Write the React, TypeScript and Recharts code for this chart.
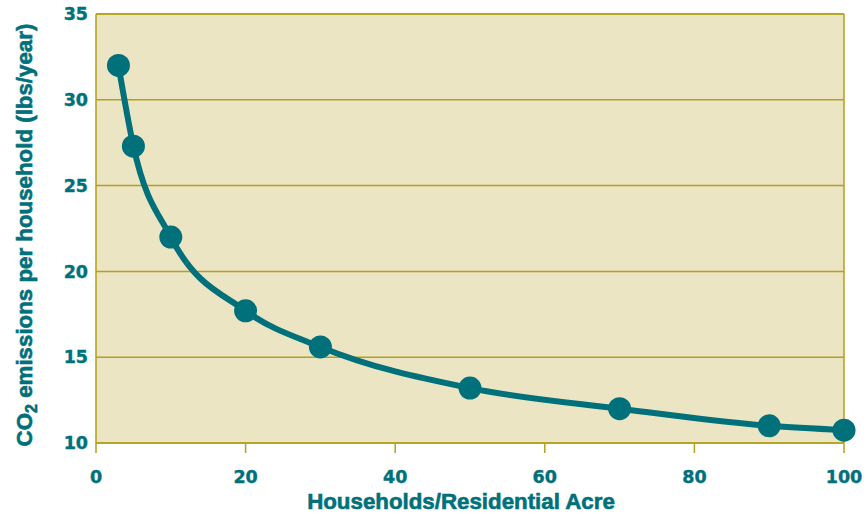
import React from 'react';
import { LineChart, Line, XAxis, YAxis, CartesianGrid, ReferenceLine, Label } from 'recharts';

const densities = [3, 5, 10, 20, 30, 50, 70, 90, 100];
const emissions = [32, 27.3, 22, 17.7, 15.6, 13.2, 12, 11, 10.75];
const xTicks = [0, 20, 40, 60, 80, 100];
const yTicks = [10, 15, 20, 25, 30, 35];

const data = densities.map((d, i) => ({ x: d, y: emissions[i] }));

const TEAL = '#00707A';
const OLIVE = '#B3A01C';
const BEIGE = '#EBE5C4';

const tickStyle = { fontFamily: 'DejaVu Sans', fontWeight: 700, fontSize: 17.5, fill: TEAL, stroke: TEAL, strokeWidth: 0.4 };

const YLabel = () => (
  <text
    transform="translate(32,235) rotate(-90)"
    textAnchor="middle"
    fontFamily="'Liberation Sans Narrow', 'Liberation Sans', Arial"
    fontWeight={700}
    fontSize={22.3}
    fill={TEAL}
    stroke={TEAL}
    strokeWidth={0.6}
  >
    CO<tspan dy={5} fontSize={16}>2</tspan>
    <tspan dy={-5}> emissions per household (lbs/year)</tspan>
  </text>
);

const XLabel = () => (
  <text
    x={461}
    y={509}
    textAnchor="middle"
    fontFamily="'Liberation Sans Narrow', 'Liberation Sans', Arial"
    fontWeight={700}
    fontSize={22.3}
    fill={TEAL}
    stroke={TEAL}
    strokeWidth={0.6}
  >
    Households/Residential Acre
  </text>
);

export default function App() {
  return (
    <div style={{ position: 'fixed', left: 0, top: 0, width: 868, height: 514, background: '#fff' }}>
      <LineChart width={868} height={514} data={data} margin={{ top: 14, right: 24, bottom: 31, left: 36 }}>
        <CartesianGrid vertical={false} horizontal={true} stroke={OLIVE} strokeWidth={1.5} fill={BEIGE} fillOpacity={1} />
        <XAxis
          type="number"
          dataKey="x"
          domain={[0, 100]}
          ticks={xTicks}
          height={40}
          axisLine={{ stroke: OLIVE, strokeWidth: 1.5 }}
          tickLine={{ stroke: OLIVE, strokeWidth: 1.5 }}
          tickSize={10}
          tickMargin={18}
          tick={tickStyle}
        >
          <Label content={<XLabel />} />
        </XAxis>
        <YAxis
          type="number"
          domain={[10, 35]}
          ticks={yTicks}
          width={60}
          axisLine={{ stroke: OLIVE, strokeWidth: 1.5 }}
          tickLine={false}
          tick={tickStyle}
        >
          <Label content={<YLabel />} />
        </YAxis>
        <ReferenceLine x={100} stroke={OLIVE} strokeWidth={1.5} />
        <ReferenceLine y={35} stroke={OLIVE} strokeWidth={1.5} />
        <Line
          type="monotone"
          dataKey="y"
          stroke={TEAL}
          strokeWidth={6}
          dot={{ r: 11.5, fill: TEAL, stroke: 'none' }}
          activeDot={false}
          isAnimationActive={false}
        />
      </LineChart>
    </div>
  );
}
